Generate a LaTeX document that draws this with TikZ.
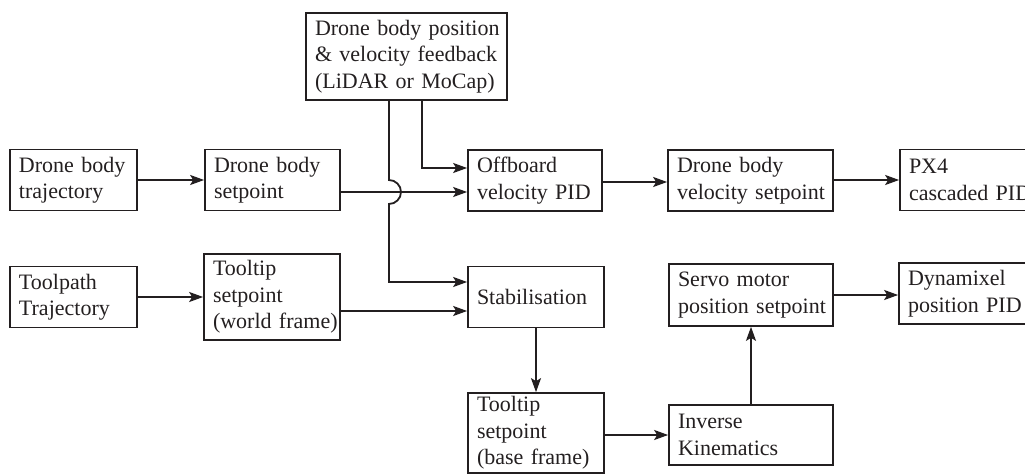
\documentclass[tikz,border=0pt]{standalone}
\usepackage{fontspec}
\setmainfont{Liberation Serif}
\usetikzlibrary{arrows.meta, positioning, calc}
\definecolor{Charcoal}{HTML}{231F20}

\begin{document}
\begin{tikzpicture}[x=1pt, y=-1pt,
    blk/.style={draw=Charcoal, line width=1.7pt, align=left, inner xsep=9pt, inner ysep=2pt,
                font=\fontsize{22}{26.5}\selectfont, text=Charcoal,
                execute at begin node={\hyphenpenalty=10000\exhyphenpenalty=10000\hbadness=10000\hfuzz=20pt}},
    arr/.style={draw=Charcoal, line width=1.8pt, -{Stealth[length=14pt, width=10pt, inset=3pt]}}]
    \useasboundingbox (0,0) rectangle (1025,476);

    % drone body branch
    \node[blk, text width=109pt, minimum height=61pt] (traj) at (73.5,180) {Drone~body\\trajectory};
    \node[blk, text width=117pt, minimum height=61pt] (dsp) at (272.5,180) {Drone~body\\setpoint};
    \node[blk, text width=183pt, minimum height=87pt] (fb) at (406.5,56.5) {Drone~body~position\\\&~velocity~feedback\\(LiDAR~or~MoCap)};
    \node[blk, text width=116pt, minimum height=61pt] (off) at (535,180.5) {Offboard\\velocity~PID};
    \node[blk, text width=147pt, minimum height=61pt] (vsp) at (750.5,180.5) {Drone~body\\velocity~setpoint};
    \node[blk, text width=122pt, minimum height=61pt] (px4) at (970,180) {PX4\\cascaded~PID};

    % tooltip branch
    \node[blk, text width=109pt, minimum height=61pt] (tp) at (73.5,297) {Toolpath\\Trajectory};
    \node[blk, text width=118pt, minimum height=86pt] (tw) at (272,297) {Tooltip\\setpoint\\(world~frame)};
    \node[blk, text width=118pt, minimum height=61pt] (stab) at (536,297) {Stabilisation};
    \node[blk, text width=118pt, minimum height=80pt] (tb) at (536,433) {Tooltip\\setpoint\\(base~frame)};
    \node[blk, text width=146pt, minimum height=60pt] (ik) at (751,435) {Inverse\\Kinematics};
    \node[blk, text width=146pt, minimum height=62pt] (servo) at (751,295) {Servo~motor\\position~setpoint};
    \node[blk, text width=123pt, minimum height=61pt] (dyn) at (969.5,293.5) {Dynamixel\\position~PID};

    \coordinate (hop) at (389,192);
    \coordinate (stabin) at ([yshift=-14pt]stab.west);

    \draw[arr] (traj) -- (dsp);
    \draw[arr] (dsp.east |- hop) -- (off.west |- hop);
    \draw[arr] ([xshift=15.5pt]fb.south) |- ([yshift=12.5pt]off.west);
    \draw[arr] (fb.south -| hop) -- ([yshift=12pt]hop) arc[start angle=90, end angle=-90, radius=12pt] |- ([yshift=15pt]stab.west);
    \draw[arr] ([yshift=-1.5pt]off.east) -- ([yshift=-1.5pt]vsp.west);
    \draw[arr] (vsp.east |- px4) -- (px4);

    \draw[arr] (tp) -- (tw);
    \draw[arr] (stabin -| tw.east) -- (stabin);
    \draw[arr] (stab) -- (tb);
    \draw[arr] (ik.west -| tb.east) -- (ik.west);
    \draw[arr] (ik) -- (servo);
    \draw[arr] (servo.east) -- (servo.east -| dyn.west);
\end{tikzpicture}
\end{document}
